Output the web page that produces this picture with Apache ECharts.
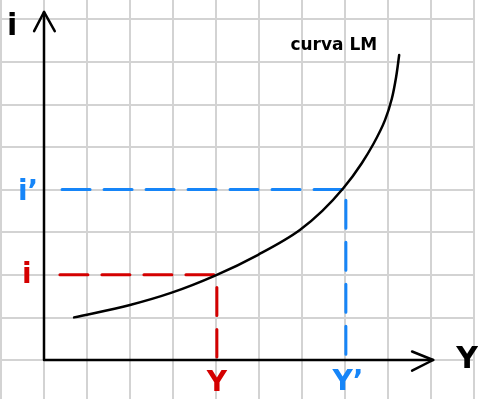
<!DOCTYPE html>
<html lang="es">
<head>
    <meta charset="UTF-8">
    <title>Curva LM</title>
    <script src="https://cdn.jsdelivr.net/npm/echarts@6/dist/echarts.min.js"></script>
    <style>
        html, body { margin: 0; padding: 0; background: #fff; }
        #chart { width: 478px; height: 399px; }
    </style>
</head>
<body>
<div id="chart"></div>
<script>
    // curva LM (Y, i), unidades = cuadros de la cuadricula
    const lmY = [0.70, 2.0, 2.97, 3.98, 4.98, 5.95, 6.96, 7.39, 7.66, 7.93, 8.09, 8.19, 8.26];
    const lmI = [1.00, 1.29, 1.58, 1.98, 2.47, 3.05, 4.03, 4.62, 5.07, 5.63, 6.14, 6.65, 7.16];

    // equilibrio inicial (Y, i) y nuevo (Y', i')
    const eqY = [4.02, 7.02];
    const eqI = [2.0, 4.0];
    const eqStartX = [0.37, 0.42];      // donde empieza la guia horizontal
    const eqEndI = [1.70, 3.75];        // donde empieza la guia vertical
    const eqColors = ['#d40000', '#1685f8'];

    // extremos de los ejes con flecha
    const axisEnd = [9.05, 8.17];

    const chart = echarts.init(document.getElementById('chart'));
    const FONT = 'DejaVu Sans';

    const curve = lmY.map((y, k) => [y, lmI[k]]);

    // curva suave (hermite con parametro por cuerda) sobre los puntos en pixeles
    function renderCurve(params, api) {
        if (params.dataIndex !== 0) return;
        const p = curve.map(c => api.coord(c));
        const n = p.length;
        const len = [];
        for (let k = 0; k < n - 1; k++) {
            len.push(Math.hypot(p[k + 1][0] - p[k][0], p[k + 1][1] - p[k][1]));
        }
        const tan = p.map((pt, k) => {
            if (k === 0) return [(p[1][0] - pt[0]) / len[0], (p[1][1] - pt[1]) / len[0]];
            if (k === n - 1) {
                const d = len[n - 2];
                return [(pt[0] - p[n - 2][0]) / d, (pt[1] - p[n - 2][1]) / d];
            }
            const d0 = len[k - 1], d1 = len[k];
            return [0, 1].map(j =>
                ((pt[j] - p[k - 1][j]) / d0 * d1 + (p[k + 1][j] - pt[j]) / d1 * d0) / (d0 + d1));
        });
        let d = 'M' + p[0][0] + ',' + p[0][1];
        for (let k = 0; k < n - 1; k++) {
            const s = len[k] / 3;
            const c1 = [p[k][0] + tan[k][0] * s, p[k][1] + tan[k][1] * s];
            const c2 = [p[k + 1][0] - tan[k + 1][0] * s, p[k + 1][1] - tan[k + 1][1] * s];
            d += ' C' + c1.join(',') + ' ' + c2.join(',') + ' ' + p[k + 1].join(',');
        }
        return {
            type: 'path',
            shape: { pathData: d },
            style: { stroke: '#000', fill: 'none', lineWidth: 2.5, lineCap: 'round' }
        };
    }

    const guides = [];
    eqY.forEach((y, k) => {
        const style = { color: eqColors[k], width: 3, type: [28, 14], cap: 'round' };
        guides.push({
            type: 'line', data: [[eqStartX[k], eqI[k]], [y, eqI[k]]],
            symbol: 'none', lineStyle: style, z: 3, silent: true
        });
        guides.push({
            type: 'line', data: [[y, eqEndI[k]], [y, 0.07]],
            symbol: 'none', lineStyle: style, z: 3, silent: true
        });
    });

    const ax = axisEnd[0], ay = axisEnd[1];
    const axisStyle = { color: '#000', width: 2.5, cap: 'round', join: 'round' };
    const axes = [
        [[0, ay], [0, 0], [ax, 0]],
        [[-0.23, ay - 0.45], [0, ay], [0.25, ay - 0.45]],
        [[ax - 0.49, 0.2], [ax, 0], [ax - 0.49, -0.25]]
    ].map(pts => ({
        type: 'line', data: pts, symbol: 'none', lineStyle: axisStyle, z: 5, silent: true
    }));

    const labels = [
        { value: [-0.74, 7.82], text: 'i', color: '#000', size: 30 },
        { value: [-0.37, 3.93], text: 'i’', color: eqColors[1], size: 28 },
        { value: [-0.40, 1.97], text: 'i', color: eqColors[0], size: 28 },
        { value: [eqY[0], -0.56], text: 'Y', color: eqColors[0], size: 28 },
        { value: [eqY[1] + 0.05, -0.54], text: 'Y’', color: eqColors[1], size: 28 },
        { value: [9.84, 0], text: 'Y', color: '#000', size: 30 },
        { value: [6.74, 7.39], text: 'curva LM', color: '#000', size: 17 }
    ];

    chart.setOption({
        backgroundColor: '#fff',
        animation: false,
        grid: { left: 1, top: -23.4, width: 473, height: 426, outerBoundsMode: 'none' },
        xAxis: {
            type: 'value', min: -1, max: 10, interval: 1,
            axisLine: { show: false }, axisTick: { show: false }, axisLabel: { show: false },
            splitLine: { show: true, lineStyle: { color: '#d3d3d3', width: 2 } }
        },
        yAxis: {
            type: 'value', min: -1, max: 9, interval: 1,
            axisLine: { show: false }, axisTick: { show: false }, axisLabel: { show: false },
            splitLine: { show: true, lineStyle: { color: '#d3d3d3', width: 2 } }
        },
        series: [
            {
                type: 'custom', data: curve, renderItem: renderCurve,
                z: 4, silent: true, clip: false
            },
            ...guides,
            ...axes,
            {
                type: 'scatter', symbolSize: 0, z: 6, silent: true,
                itemStyle: { opacity: 1 },
                data: labels.map(l => ({
                    value: l.value,
                    label: {
                        show: true, position: 'inside', formatter: l.text, opacity: 1,
                        color: l.color, fontSize: l.size, fontWeight: 'bold', fontFamily: FONT
                    }
                }))
            }
        ]
    });
</script>
</body>
</html>
